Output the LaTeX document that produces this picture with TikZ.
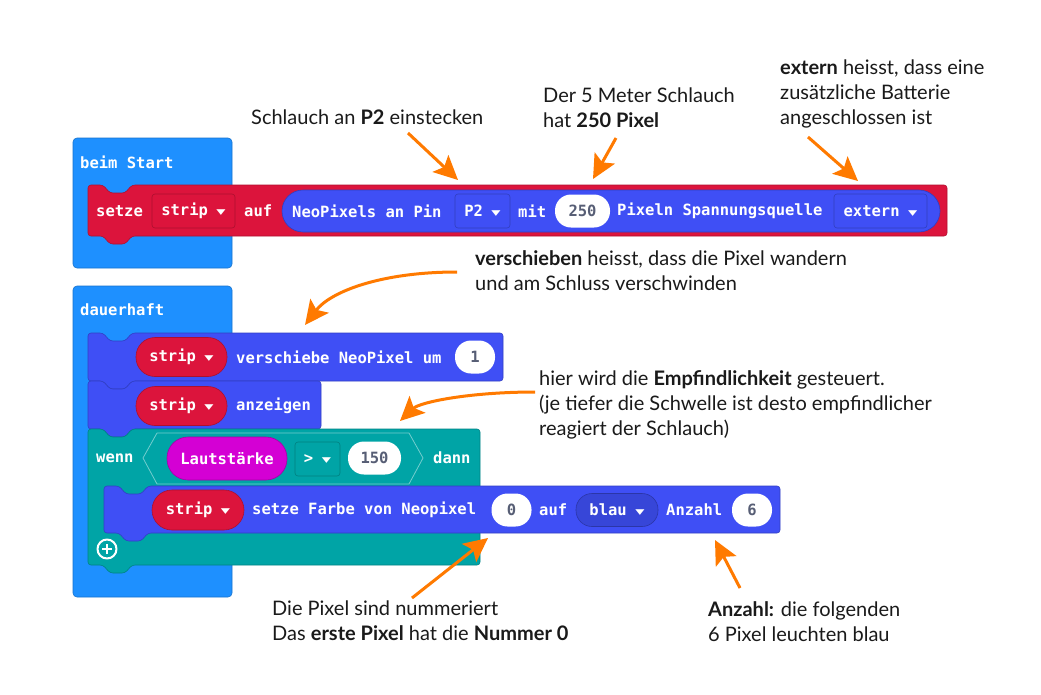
\documentclass[tikz,border=0pt]{standalone}
\usepackage{fontspec}
\setmainfont{Lato}
\newfontfamily\mccode{DejaVu Sans Mono}
\newfontfamily\mcsym{DejaVu Sans}
\usetikzlibrary{arrows.meta}
\definecolor{mcHat}{HTML}{1E90FF}
\definecolor{mcVar}{HTML}{DC143C}
\definecolor{mcNeo}{HTML}{3F4FF5}
\definecolor{mcLogic}{HTML}{00A4A6}
\definecolor{mcInput}{HTML}{D400D4}
\definecolor{mcNum}{HTML}{575E75}
\definecolor{mcInk}{HTML}{1A1A1A}
\definecolor{mcArrow}{HTML}{FF7A00}
% stack block with notch on top and tab below: colour, left, top, right, bottom
\newcommand\mcblock[5]{%
  \filldraw[fill=#1, draw=#1!80!black, line width=0.6pt, rounded corners=3pt]
    (#2,#3) -- (#2+15,#3) -- (#2+22,#3+8) -- (#2+37,#3+8) -- (#2+44,#3) -- (#4,#3)
    -- (#4,#5) -- (#2+44,#5) -- (#2+37,#5+8) -- (#2+22,#5+8) -- (#2+15,#5) -- (#2,#5) -- cycle;}
\newcommand\mcdrop{\hspace{0.55em}\raisebox{1pt}{\scalebox{1}[0.62]{\mcsym\fontsize{12}{12}\selectfont ▼}}}
\tikzset{
  mc diagram/.style={x=1pt, y=-1pt, line join=round},
  mc code/.style={font=\mccode\bfseries\fontsize{15.5}{18}\selectfont, text=white, inner sep=0pt},
  mc label/.style={mc code, anchor=west},
  mc hat/.style={fill=mcHat, draw=mcHat!80!black, line width=0.6pt, rounded corners=4pt},
  mc drop/.style={mc code, fill=#1, draw=#1!78!black, line width=0.6pt,
    rounded corners=3pt, minimum height=34pt},
  mc pill/.style={mc code, fill=#1, draw=#1!78!black, line width=0.6pt,
    rounded corners=19pt, minimum height=39pt},
  mc num/.style={mc code, text=mcNum, fill=white, rounded corners=16pt,
    minimum height=33pt, minimum width=40pt},
  mc note/.style={font=\fontsize{20}{25}\selectfont, text=mcInk, align=left,
    anchor=north west, inner sep=0pt},
  mc arrow/.style={draw=mcArrow, line width=3pt, -{Stealth[length=24pt, width=23pt, inset=5pt]}}
}

\begin{document}
\begin{tikzpicture}[mc diagram]
\fill[white] (0,0) rectangle (1041,694);
\useasboundingbox (0,0) rectangle (1041,694);
% beim Start
\filldraw[mc hat] (73,138) rectangle (232,268);
\node[mc label] (start) at (80,162) {beim Start};
\mcblock{mcVar}{88}{185}{947}{236}
\node[mc label] (setze) at (96,211) {setze};
\node[mc drop=mcVar, minimum width=83pt] (strip1) at (193.5,211) {strip\mcdrop};
\node[mc label] (auf1) at (244,211) {auf};
\node[fill=mcNeo, draw=mcNeo!78!black, line width=0.6pt, rounded corners=21pt,
  minimum width=658pt, minimum height=42pt, inner sep=0pt] (neopixels) at (611,211) {};
\node[mc label] (pin) at (292,211) {NeoPixels an Pin};
\node[mc drop=mcNeo, minimum width=55pt] (p2) at (482.5,211) {P2\mcdrop};
\node[mc label] (mit) at (518,211) {mit};
\node[mc num, minimum width=55pt] (n250) at (582.5,211) {250};
\node[mc label] (quelle) at (617,211) {Pixeln Spannungsquelle};
\node[mc drop=mcNeo, minimum width=93pt] (extern) at (880.5,211) {extern\mcdrop};
% dauerhaft
\filldraw[mc hat] (73,286) rectangle (232,597);
\node[mc label] (forever) at (80,310) {dauerhaft};
\mcblock{mcNeo}{88}{333}{503}{381}
\node[mc pill=mcVar, minimum width=91pt] (strip2) at (181.5,357) {strip\mcdrop};
\node[mc label] (shift) at (236,357) {verschiebe NeoPixel um};
\node[mc num] (n1) at (475,357) {1};
\mcblock{mcNeo}{88}{381}{321}{429}
\node[mc pill=mcVar, minimum width=91pt] (strip3) at (181.5,406) {strip\mcdrop};
\node[mc label] (show) at (236,406) {anzeigen};
% wenn ... dann
\mcblock{mcLogic}{88}{429}{480}{565}
\node[mc label] (wenn) at (96,458) {wenn};
\draw[draw=mcLogic!55!white, line width=0.8pt] (143,458) -- (157,433) -- (409,433)
  -- (423,458) -- (409,484) -- (157,484) -- cycle;
\node[mc pill=mcInput, minimum width=120pt, minimum height=43pt, rounded corners=21pt] (loud) at (227,458.5) {Lautstärke};
\node[mc drop=mcLogic, minimum width=45pt] (gt) at (317.5,459) {>\mcdrop};
\node[mc num, minimum width=53pt] (n150) at (374.5,458) {150};
\node[mc label] (dann) at (433,458) {dann};
\mcblock{mcNeo}{104}{486}{780}{533}
\node[mc pill=mcVar, minimum width=92pt, minimum height=40pt, rounded corners=20pt] (strip4) at (198,510) {strip\mcdrop};
\node[mc label] (colour) at (252,510) {setze Farbe von Neopixel};
\node[mc num] (n0) at (511.5,510) {0};
\node[mc label] (auf2) at (539,510) {auf};
\node[mc drop=mcNeo!88!black, rounded corners=16pt, minimum height=33pt, minimum width=82pt] (blue) at (617,510) {blau\mcdrop};
\node[mc label] (count) at (666,510) {Anzahl};
\node[mc num] (n6) at (752,510) {6};
\node[circle, draw=white, line width=2pt, minimum size=19pt, inner sep=0pt] (add) at (107,549) {};
\draw[white, line width=2.5pt] ([xshift=-5pt]add.center) -- ([xshift=5pt]add.center)
  ([yshift=-5pt]add.center) -- ([yshift=5pt]add.center);
% notes
\node[mc note] (notepin) at (251,110) {Schlauch an \textbf{P2} einstecken};
\node[mc note] (notelen) at (543,88) {Der 5 Meter Schlauch\\hat \textbf{250 Pixel}};
\node[mc note] (notepower) at (780,60) {\textbf{extern} heisst, dass eine\\zusätzliche Batterie\\angeschlossen ist};
\node[mc note] (noteshift) at (475,250) {\textbf{verschieben} heisst, dass die Pixel wandern\\und am Schluss verschwinden};
\node[mc note] (notesense) at (539,370) {hier wird die \textbf{Empfindlichkeit} gesteuert.\\(je tiefer die Schwelle ist desto empfindlicher\\reagiert der Schlauch)};
\node[mc note] (noteindex) at (272,601) {Die Pixel sind nummeriert\\Das \textbf{erste Pixel} hat die \textbf{Nummer 0}};
\node[mc note] (notecount) at (708,601) {\textbf{Anzahl:} die folgenden\\6 Pixel leuchten blau};
% arrows
\coordinate (pin tail) at (408,133);
\coordinate (pin tip) at (458,180);
\coordinate (len tail) at (616,138);
\coordinate (len tip) at (593,179);
\coordinate (power tail) at (808,137);
\coordinate (power tip) at (858,181);
\coordinate (shift tail) at (457,272);
\coordinate (shift tip) at (305,325);
\coordinate (sense tail) at (535,392);
\coordinate (sense tip) at (400,421);
\coordinate (index tail) at (412,598);
\coordinate (index tip) at (488,538);
\coordinate (count tail) at (740,588);
\coordinate (count tip) at (715,540);
\draw[mc arrow] (pin tail) -- (pin tip);
\draw[mc arrow] (len tail) -- (len tip);
\draw[mc arrow] (power tail) -- (power tip);
\draw[mc arrow] (shift tail) .. controls (380,272) and (330,292) .. (shift tip);
\draw[mc arrow] (sense tail) .. controls (470,392) and (420,402) .. (sense tip);
\draw[mc arrow] (index tail) -- (index tip);
\draw[mc arrow] (count tail) -- (count tip);
\end{tikzpicture}
\end{document}
